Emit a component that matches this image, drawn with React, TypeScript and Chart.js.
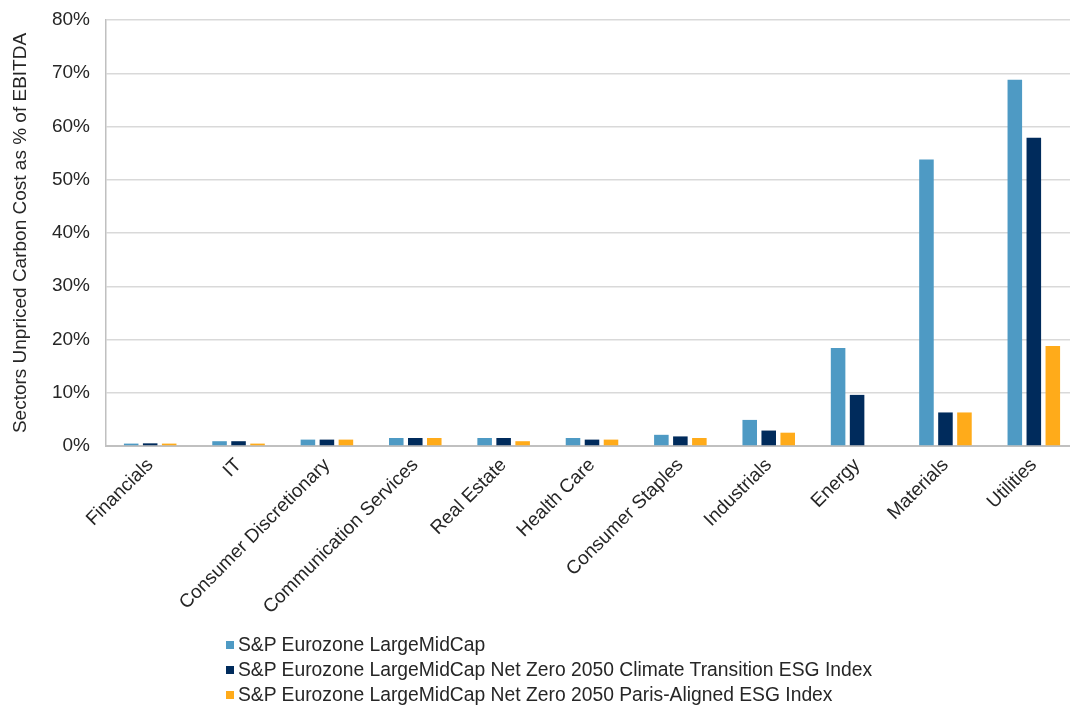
import React, { useEffect, useRef } from "react";
import { Chart, registerables } from "chart.js";

Chart.register(...registerables);

const categories = [
  "Financials",
  "IT",
  "Consumer Discretionary",
  "Communication Services",
  "Real Estate",
  "Health Care",
  "Consumer Staples",
  "Industrials",
  "Energy",
  "Materials",
  "Utilities",
];

const seriesNames = [
  "S&P Eurozone LargeMidCap",
  "S&P Eurozone LargeMidCap Net Zero 2050 Climate Transition ESG Index",
  "S&P Eurozone LargeMidCap Net Zero 2050 Paris-Aligned ESG Index",
];

const broadValues = [0.45, 0.9, 1.2, 1.5, 1.5, 1.5, 2.1, 4.9, 18.4, 53.8, 68.8];
const ctValues = [0.5, 0.9, 1.2, 1.5, 1.5, 1.2, 1.8, 2.9, 9.6, 6.3, 57.9];
const paValues = [0.45, 0.45, 1.2, 1.5, 0.9, 1.2, 1.5, 2.5, 0, 6.3, 18.8];

const seriesColors = ["#4E9AC4", "#002B5C", "#FFAB1A"];
const yTicks = [0, 10, 20, 30, 40, 50, 60, 70, 80];
const yTitle = "Sectors Unpriced Carbon Cost as % of EBITDA";

const W = 1080;
const H = 707;
const FONT = "'Liberation Sans', Arial, sans-serif";
const TEXT = "#262626";
const FS = 19;

export default function App() {
  const ref = useRef<HTMLCanvasElement>(null);

  useEffect(() => {
    const values = [broadValues, ctValues, paValues];
    const chart = new Chart(ref.current as HTMLCanvasElement, {
      type: "bar",
      data: {
        labels: categories,
        datasets: seriesNames.map((name, i) => ({
          label: name,
          data: values[i],
          backgroundColor: seriesColors[i],
          borderWidth: 0,
          categoryPercentage: 0.645,
          barPercentage: 0.766,
        })),
      },
      options: {
        responsive: false,
        animation: false,
        devicePixelRatio: 1,
        layout: { padding: { left: 0, right: 2, top: 20, bottom: 86 } },
        plugins: {
          legend: { display: false },
          tooltip: { enabled: false },
        },
        scales: {
          x: {
            grid: { display: false, drawTicks: false },
            border: { color: "#c0c0c0", width: 2 },
            ticks: {
              minRotation: 45,
              maxRotation: 45,
              autoSkip: false,
              padding: 8,
              color: TEXT,
              font: { family: FONT, size: FS },
            },
            afterFit: (s: any) => {
              s.height = 175;
            },
          },
          y: {
            min: 0,
            max: 80,
            afterBuildTicks: (s: any) => {
              s.ticks = yTicks.map((v) => ({ value: v }));
            },
            ticks: {
              padding: 16,
              color: TEXT,
              font: { family: FONT, size: FS },
              callback: (v: any) => v + "%",
            },
            grid: { color: "#d9d9d9", lineWidth: 1.5, drawTicks: false },
            border: { color: "#c0c0c0", width: 1.5 },
            title: {
              display: true,
              text: yTitle,
              color: TEXT,
              font: { family: FONT, size: FS },
              padding: { top: 9, bottom: 0 },
            },
            afterFit: (s: any) => {
              s.width = 106;
              s.paddingTop = 0;
              s.paddingBottom = 0;
            },
          },
        },
      },
    });
    return () => chart.destroy();
  }, []);

  return (
    <div
      style={{
        position: "fixed",
        left: 0,
        top: 0,
        width: 1070,
        height: 707,
        overflow: "hidden",
        background: "#fff",
      }}
    >
      <canvas
        ref={ref}
        width={W}
        height={H}
        style={{ width: W + "px", height: H + "px", display: "block" }}
      />
      <div
        style={{
          position: "absolute",
          left: 226,
          top: 632,
          fontFamily: FONT,
          fontSize: 19.3,
          color: TEXT,
        }}
      >
        {seriesNames.map((name, i) => (
          <div
            key={name}
            style={{ display: "flex", alignItems: "center", height: 25, whiteSpace: "nowrap" }}
          >
            <span
              style={{
                display: "inline-block",
                width: 8,
                height: 8,
                background: seriesColors[i],
                marginRight: 4,
              }}
            />
            <span>{name}</span>
          </div>
        ))}
      </div>
    </div>
  );
}
